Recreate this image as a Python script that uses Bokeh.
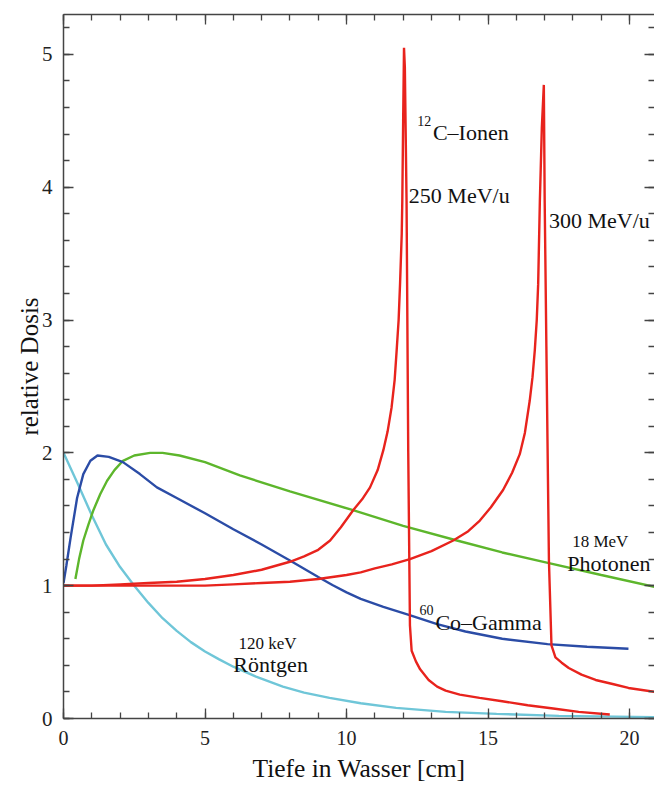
from bokeh.plotting import figure
from bokeh.models import Range1d, LinearAxis, SingleIntervalTicker, CustomLabelingPolicy, Title
from bokeh.core.properties import value
from bokeh.embed import file_html
from bokeh.resources import INLINE

# ---- data ----
c250_x = [0, 1, 2, 3, 4, 5, 6, 7, 8, 8.5, 9, 9.42, 9.8, 10.24, 10.55, 10.83, 11.1, 11.3, 11.45,
          11.59, 11.7, 11.77, 11.84, 11.89, 11.95, 11.97, 12.0, 12.03, 12.06, 12.12, 12.18, 12.24,
          12.3, 12.45, 12.6, 12.9, 13.2, 13.5, 14.0, 14.7, 15.5, 16.4, 17.3, 18.2, 19.3]
c250_y = [1.0, 1.0, 1.01, 1.02, 1.03, 1.05, 1.08, 1.12, 1.18, 1.22, 1.27, 1.34, 1.44, 1.57, 1.65,
          1.74, 1.87, 2.02, 2.16, 2.34, 2.55, 2.77, 3.0, 3.27, 3.65, 3.9, 4.5, 5.05, 4.9, 3.9, 2.0,
          0.7, 0.51, 0.43, 0.37, 0.29, 0.24, 0.21, 0.18, 0.155, 0.13, 0.10, 0.075, 0.05, 0.03]

c300_x = [0, 2, 4, 5, 6, 7, 8, 9, 10, 10.5, 11, 11.6, 12.24, 13.0, 13.77, 14.3, 14.71, 15.1, 15.53,
          15.85, 16.12, 16.3, 16.47, 16.57, 16.65, 16.72, 16.77, 16.83, 16.9, 16.97, 17.0, 17.06,
          17.15, 17.24, 17.38, 17.6, 17.85, 18.3, 18.8, 19.4, 19.96, 20.9]
c300_y = [1.0, 1.0, 1.0, 1.0, 1.01, 1.02, 1.03, 1.05, 1.08, 1.10, 1.13, 1.16, 1.20, 1.26, 1.34,
          1.41, 1.49, 1.59, 1.72, 1.85, 1.99, 2.15, 2.39, 2.57, 2.77, 3.0, 3.27, 3.9, 4.45, 4.77,
          3.9, 2.8, 1.19, 0.55, 0.46, 0.42, 0.38, 0.33, 0.29, 0.26, 0.23, 0.2]

co60_x = [0, 0.1, 0.25, 0.48, 0.7, 0.95, 1.2, 1.6, 2.1, 2.7, 3.3, 4.0, 5.0, 6.0, 7.0, 8.0, 9.0,
          9.5, 10.0, 10.5, 11.3, 12.2, 13.2, 14.2, 15.5, 17.1, 18.5, 19.96]
co60_y = [1.02, 1.15, 1.36, 1.66, 1.84, 1.94, 1.98, 1.97, 1.93, 1.84, 1.74, 1.66, 1.545, 1.425,
          1.31, 1.19, 1.065, 1.005, 0.95, 0.90, 0.84, 0.78, 0.71, 0.655, 0.60, 0.56, 0.54, 0.525]

ph18_x = [0.42, 0.55, 0.7, 0.88, 1.06, 1.3, 1.54, 1.8, 2.1, 2.5, 3.06, 3.5, 4.1, 5.0, 6.23, 8.0,
          10.2, 12.0, 13.9, 15.5, 17.15, 19.0, 20.9]
ph18_y = [1.05, 1.2, 1.34, 1.46, 1.57, 1.69, 1.79, 1.87, 1.94, 1.98, 2.0, 2.0, 1.98, 1.93, 1.83,
          1.71, 1.57, 1.45, 1.34, 1.25, 1.17, 1.08, 0.99]

xray_x = [0, 0.5, 1.0, 1.5, 2.0, 2.5, 3.0, 3.5, 4.0, 4.5, 5.0, 5.5, 6.0, 6.8, 7.75, 8.5, 9.4, 10.5,
          11.75, 13.5, 15.3, 17.5, 20.9]
xray_y = [2.0, 1.77, 1.53, 1.31, 1.14, 1.0, 0.87, 0.755, 0.66, 0.575, 0.505, 0.445, 0.39, 0.315,
          0.24, 0.195, 0.155, 0.115, 0.08, 0.05, 0.035, 0.02, 0.01]

x_title = "Tiefe in Wasser [cm]"
y_title = "relative Dosis"

FONT = "Liberation Serif"
RED = "#e8231d"
BLUE = "#2b4ca6"
GREEN = "#5db62c"
CYAN = "#6fc6d8"
AXC = "#444444"

p = figure(width=654, height=787, output_backend="svg", toolbar_location=None,
           x_range=Range1d(0, 20.88), y_range=Range1d(0, 5.30),
           min_border_left=63, min_border_right=0, min_border_top=14, min_border_bottom=69,
           y_axis_label=y_title)
p.outline_line_color = None
p.grid.visible = False
p.background_fill_color = "white"
p.border_fill_color = "white"

p.xaxis.ticker = SingleIntervalTicker(interval=5, num_minor_ticks=5)
p.yaxis.ticker = SingleIntervalTicker(interval=1, num_minor_ticks=5)


def style_axis(ax):
    ax.axis_line_color = AXC
    ax.axis_line_width = 1.5
    ax.major_tick_line_color = AXC
    ax.minor_tick_line_color = AXC
    ax.major_tick_line_width = 1.3
    ax.minor_tick_line_width = 1.3
    ax.major_tick_in = 10
    ax.major_tick_out = 0
    ax.minor_tick_in = 6
    ax.minor_tick_out = 0
    ax.major_label_text_font = FONT
    ax.major_label_text_color = "#222222"
    ax.axis_label_text_font = FONT
    ax.axis_label_text_font_style = "normal"
    ax.axis_label_text_color = "#111111"
    ax.axis_label_text_font_size = "25px"


for ax in p.xaxis + p.yaxis:
    style_axis(ax)

p.yaxis.major_label_text_font_size = "21px"
p.yaxis.major_label_standoff = 11
p.yaxis.axis_label_standoff = -4
p.xaxis.major_label_text_font_size = "20px"
p.xaxis.major_label_standoff = 12

no_labels = CustomLabelingPolicy(code="return new Set()")
top = LinearAxis(ticker=SingleIntervalTicker(interval=5, num_minor_ticks=5))
right = LinearAxis(ticker=SingleIntervalTicker(interval=1, num_minor_ticks=5))
for ax in (top, right):
    style_axis(ax)
    ax.major_label_policy = no_labels
    ax.major_label_text_font_size = "0px"
    ax.major_label_standoff = 0
    ax.axis_label = None
right.axis_line_color = None
p.add_layout(top, "above")
p.add_layout(right, "right")

# x-axis title as a Title panel below the axis
p.add_layout(Title(text=x_title, align="center", text_font=FONT, text_font_size="25.5px",
                   text_font_style="normal", text_color="#111111", standoff=9), "below")

LW = 2.4
p.line(xray_x, xray_y, line_color=CYAN, line_width=LW)
p.line(ph18_x, ph18_y, line_color=GREEN, line_width=LW)
p.line(co60_x, co60_y, line_color=BLUE, line_width=LW)
p.line(c250_x, c250_y, line_color=RED, line_width=LW)
p.line(c300_x, c300_y, line_color=RED, line_width=LW)


def label(x, y, txt, size):
    p.text(x=[x], y=[y], text=[txt], text_font=value(FONT), text_font_size=size,
           text_color="#111111", text_align="left", text_baseline="alphabetic")


label(12.5, 4.5, "12", "14px")
label(13.05, 4.41, "C\u2013Ionen", "22px")
label(12.2, 3.94, "250 MeV/u", "22px")
label(17.15, 3.75, "300 MeV/u", "22px")
label(12.58, 0.815, "60", "14px")
label(13.14, 0.725, "Co\u2013Gamma", "22px")
label(17.97, 1.33, "18 MeV", "17px")
label(17.8, 1.165, "Photonen", "22px")
label(6.18, 0.565, "120 keV", "17px")
label(6.0, 0.41, "R\u00f6ntgen", "22px")

open("out.html", "w").write(file_html(p, INLINE))
